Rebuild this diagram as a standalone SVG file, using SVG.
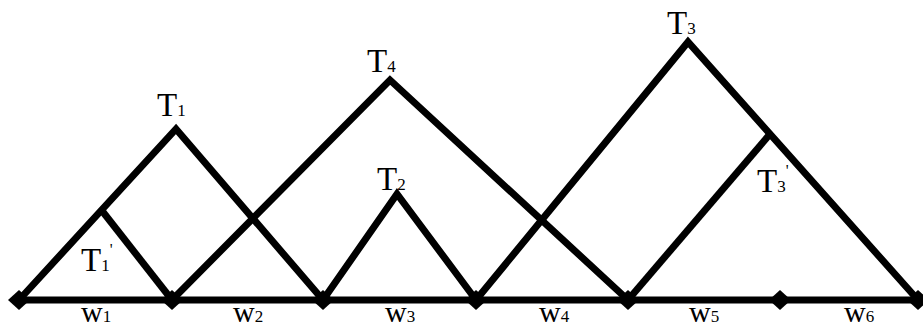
<svg xmlns="http://www.w3.org/2000/svg" width="923" height="329" viewBox="0 0 923 329">
<style>
.e{stroke:#000;stroke-width:7;fill:none;stroke-linejoin:miter;stroke-linecap:butt}
.d{fill:#000}
.t{font-size:33px}
.s{font-size:17px}
.p{font-size:16px}
.w{font-size:30px}
</style>
<defs>
<path id="dm" d="M0,-10 L11,0 L0,10 L-11,0 Z"/>
</defs>
<g id="connectors">
<path class="e" d="M19,300 L918,300"/>
<path class="e" d="M19,300 L176,129 L323,300"/>
<path class="e" d="M103,212 L172,300"/>
<path class="e" d="M172,300 L390,80 L628,300"/>
<path class="e" d="M323,300 L397,194 L476,300"/>
<path class="e" d="M476,300 L688,42 L918,300"/>
<path class="e" d="M628,300 L770,134"/>
</g>
<g id="nodes">
<g id="n1"><use href="#dm" class="d" x="19" y="300"/></g>
<g id="n2"><use href="#dm" class="d" x="172" y="300"/></g>
<g id="n3"><use href="#dm" class="d" x="323" y="300"/></g>
<g id="n4"><use href="#dm" class="d" x="476" y="300"/></g>
<g id="n5"><use href="#dm" class="d" x="628" y="300"/></g>
<g id="n6"><use href="#dm" class="d" x="780" y="300"/></g>
<g id="n7"><use href="#dm" class="d" x="918" y="300"/></g>
</g>
<g id="labels" font-family="'Liberation Serif', 'Times New Roman', 'DejaVu Serif', serif" fill="#000">
<text id="T1" class="t" x="157" y="116">T<tspan class="s">1</tspan></text>
<text id="T1p" class="t" x="81" y="271">T<tspan class="s">1</tspan><tspan class="p" dx="0" dy="-16">'</tspan></text>
<text id="T4" class="t" x="367" y="72">T<tspan class="s">4</tspan></text>
<text id="T2" class="t" x="377" y="190">T<tspan class="s">2</tspan></text>
<text id="T3" class="t" x="667" y="34">T<tspan class="s">3</tspan></text>
<text id="T3p" class="t" x="757" y="192">T<tspan class="s">3</tspan><tspan class="p" dx="0" dy="-16">'</tspan></text>
<text id="w1" class="w" x="81" y="322">w<tspan class="s">1</tspan></text>
<text id="w2" class="w" x="233" y="322">w<tspan class="s">2</tspan></text>
<text id="w3" class="w" x="385" y="322">w<tspan class="s">3</tspan></text>
<text id="w4" class="w" x="539" y="322">w<tspan class="s">4</tspan></text>
<text id="w5" class="w" x="689" y="322">w<tspan class="s">5</tspan></text>
<text id="w6" class="w" x="844" y="322">w<tspan class="s">6</tspan></text>
</g>
</svg>
